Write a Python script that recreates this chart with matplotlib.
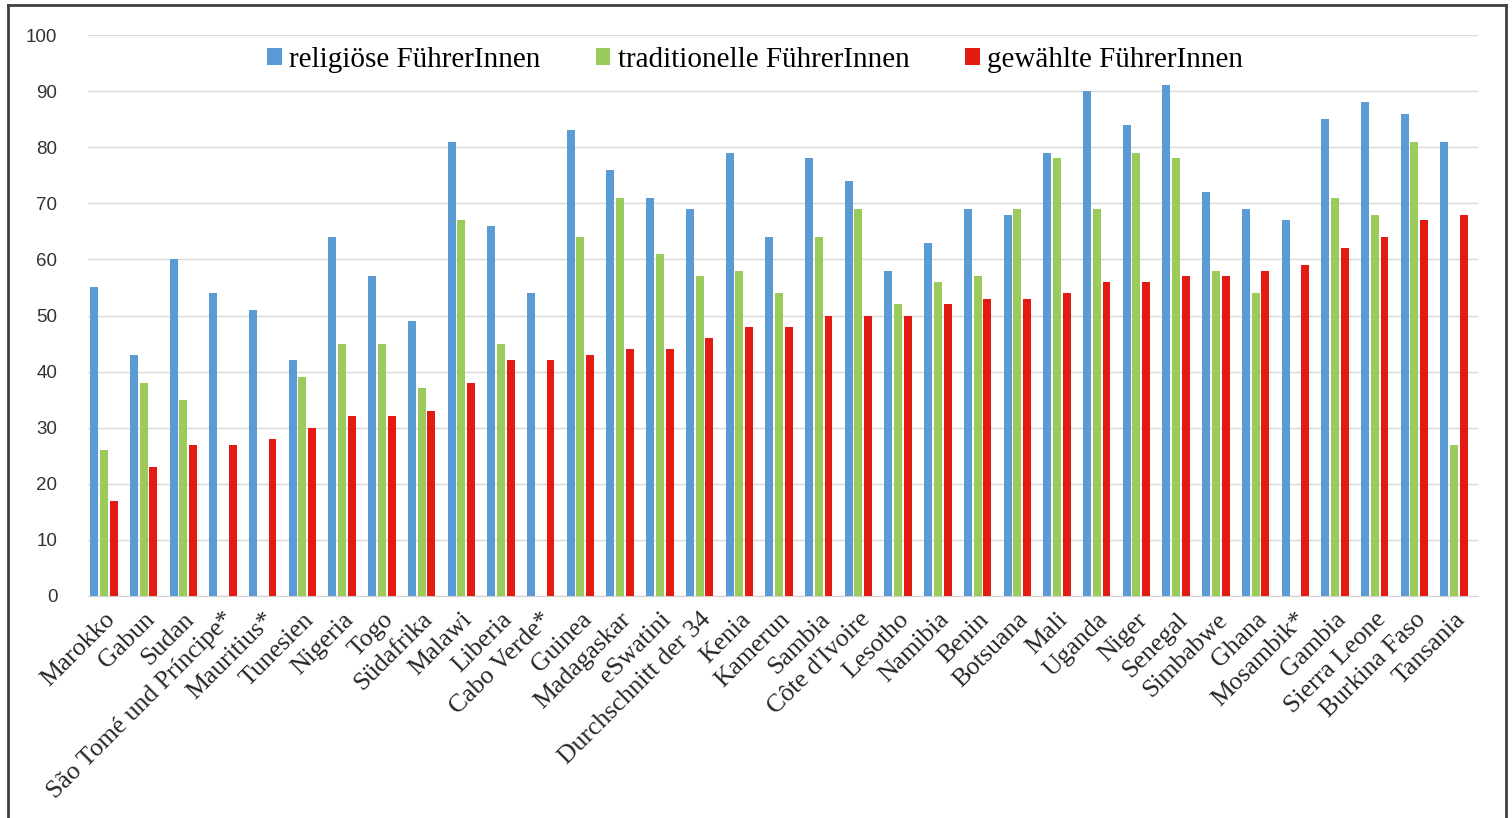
import matplotlib.pyplot as plt
from matplotlib.lines import Line2D
import numpy as np

laender = ["Marokko", "Gabun", "Sudan", "São Tomé und Príncipe*", "Mauritius*",
           "Tunesien", "Nigeria", "Togo", "Südafrika", "Malawi", "Liberia",
           "Cabo Verde*", "Guinea", "Madagaskar", "eSwatini", "Durchschnitt der 34",
           "Kenia", "Kamerun", "Sambia", "Côte d'Ivoire", "Lesotho", "Namibia",
           "Benin", "Botsuana", "Mali", "Uganda", "Niger", "Senegal", "Simbabwe",
           "Ghana", "Mosambik*", "Gambia", "Sierra Leone", "Burkina Faso", "Tansania"]

religioese = [55, 43, 60, 54, 51, 42, 64, 57, 49, 81, 66, 54, 83, 76, 71, 69,
              79, 64, 78, 74, 58, 63, 69, 68, 79, 90, 84, 91, 72, 69, 67, 85,
              88, 86, 81]
traditionelle = [26, 38, 35, 0, 0, 39, 45, 45, 37, 67, 45, 0, 64, 71, 61, 57,
                 58, 54, 64, 69, 52, 56, 57, 69, 78, 69, 79, 78, 58, 54, 0, 71,
                 68, 81, 27]
gewaehlte = [17, 23, 27, 27, 28, 30, 32, 32, 33, 38, 42, 42, 43, 44, 44, 46,
             48, 48, 50, 50, 50, 52, 53, 53, 54, 56, 56, 57, 57, 58, 59, 62,
             64, 67, 68]

serien = ["religiöse FührerInnen", "traditionelle FührerInnen", "gewählte FührerInnen"]
farben = ["#5B9BD5", "#9BCB5B", "#E41B12"]

fig = plt.figure(figsize=(15.12, 8.18), dpi=100)
ax = fig.add_axes([88 / 1512, 1 - 596 / 818, (1478 - 88) / 1512, (596 - 35) / 818])

x = np.arange(len(laender))
breite = 0.2
abstand = 0.245
for i, (werte, name, farbe) in enumerate(zip([religioese, traditionelle, gewaehlte], serien, farben)):
    ax.bar(x + (i - 1) * abstand, werte, width=breite, color=farbe, label=name, zorder=3)

ax.set_xlim(-0.4, len(laender) - 0.4)
ax.set_ylim(0, 100)
ax.set_yticks(range(0, 101, 10))
ax.yaxis.grid(True, color="#D9D9D9", linewidth=1, zorder=0)
for s in ["top", "right", "left"]:
    ax.spines[s].set_visible(False)
ax.spines["bottom"].set_color("#D0D0D0")
ax.tick_params(axis="both", length=0)
ax.tick_params(axis="y", pad=22, labelsize=13.5, labelcolor="#333333")
for lab in ax.get_yticklabels():
    lab.set_family("Liberation Sans")

ax.set_xticks(x)
ax.set_xticklabels(laender, rotation=45, ha="right", va="top", rotation_mode="anchor",
                   family="Liberation Serif", fontsize=18.5, color="#262626")
ax.tick_params(axis="x", pad=9)

ax.legend(loc="center", bbox_to_anchor=(755 / 1512, 1 - 60 / 818), bbox_transform=fig.transFigure,
          ncol=3, frameon=False, prop={"family": "Liberation Serif", "size": 21},
          handlelength=0.5, handleheight=0.5, handletextpad=0.25, columnspacing=1.9)

# aeusserer Rahmen
rahmen = "#404040"
fig.add_artist(Line2D([8 / 1512, 8 / 1512], [0, 1 - 5 / 818], color=rahmen, lw=2, transform=fig.transFigure))
fig.add_artist(Line2D([8 / 1512, 1506 / 1512], [1 - 5 / 818, 1 - 5 / 818], color=rahmen, lw=2, transform=fig.transFigure))
fig.add_artist(Line2D([1506 / 1512, 1506 / 1512], [0, 1 - 5 / 818], color=rahmen, lw=2, transform=fig.transFigure))

fig.savefig("out.png", dpi=100)
